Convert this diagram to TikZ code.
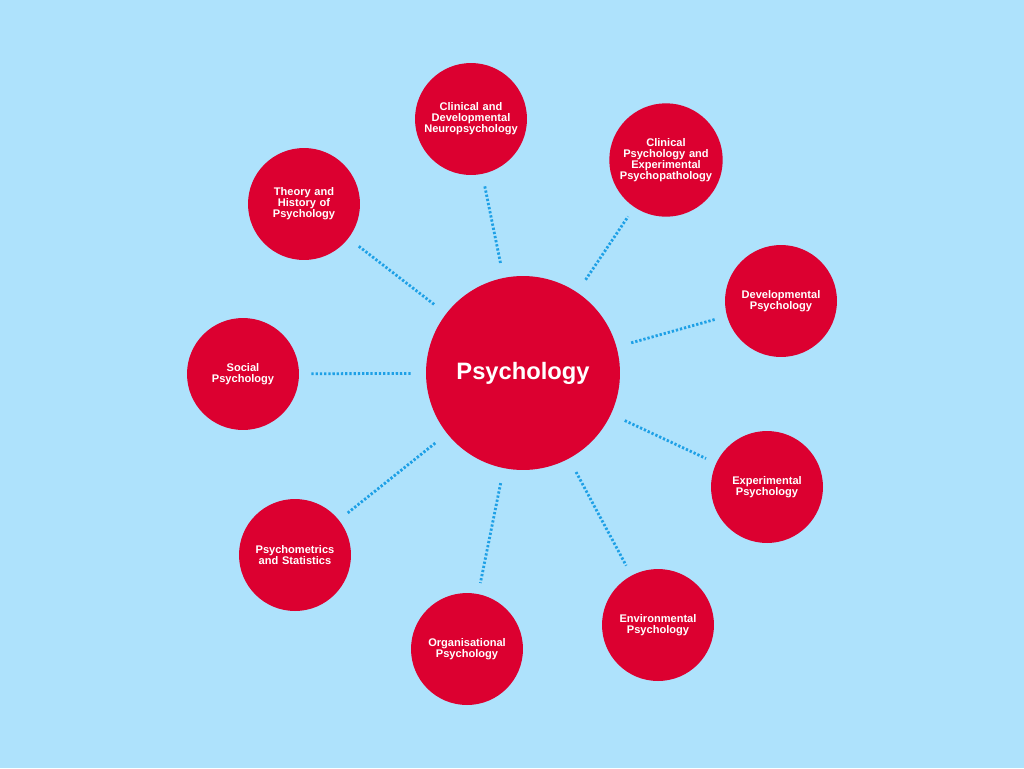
\documentclass[tikz,border=0pt]{standalone}
\usepackage{fontspec}
\setmainfont{Liberation Sans}
\usepackage{tikz}
\usetikzlibrary{positioning}
\definecolor{bgblue}{HTML}{AEE2FC}
\definecolor{discred}{HTML}{DC0030}
\definecolor{linkblue}{HTML}{1EA0E6}
\tikzset{
    field/.style={circle, fill=discred, text=white, minimum size=2.24cm, inner sep=0pt,
        align=center, text width=2.1cm, font=\fontsize{6.3}{6.3}\selectfont\bfseries},
    hub/.style={circle, fill=discred, text=white, minimum size=3.88cm, inner sep=0pt,
        font=\fontsize{13.5}{14}\selectfont\bfseries},
    link/.style={linkblue, line width=1.6pt, dash pattern=on 1.3pt off 1.1pt, shorten <=0.3cm, shorten >=0.22cm}
}
\begin{document}
\begin{tikzpicture}[x=0.02cm, y=-0.02cm]
    \fill[bgblue] (0,0) rectangle (1024,768);
    \useasboundingbox (0,0) rectangle (1024,768);
    % Hub
    \node[hub] (psy) at (523,373) {Psychology};
    % Fields
    \node[field] (neuro) at (471,119) {Clinical and\\Developmental\\Neuropsychology};
    \node[field] (clin) at (666,160) {Clinical\\Psychology and\\Experimental\\Psychopathology};
    \node[field] (dev) at (781,301) {Developmental\\Psychology};
    \node[field] (exp) at (767,487) {Experimental\\Psychology};
    \node[field] (env) at (658,625) {Environmental\\Psychology};
    \node[field] (org) at (467,649) {Organisational\\Psychology};
    \node[field] (stat) at (295,555) {Psychometrics\\and Statistics};
    \node[field] (soc) at (243,374) {Social\\Psychology};
    \node[field] (hist) at (304,204) {Theory and\\History of\\Psychology};
    % Links
    \foreach \f in {neuro,clin,dev,exp,env,org,stat,soc,hist}
        \draw[link] (psy) -- (\f);
\end{tikzpicture}
\end{document}
